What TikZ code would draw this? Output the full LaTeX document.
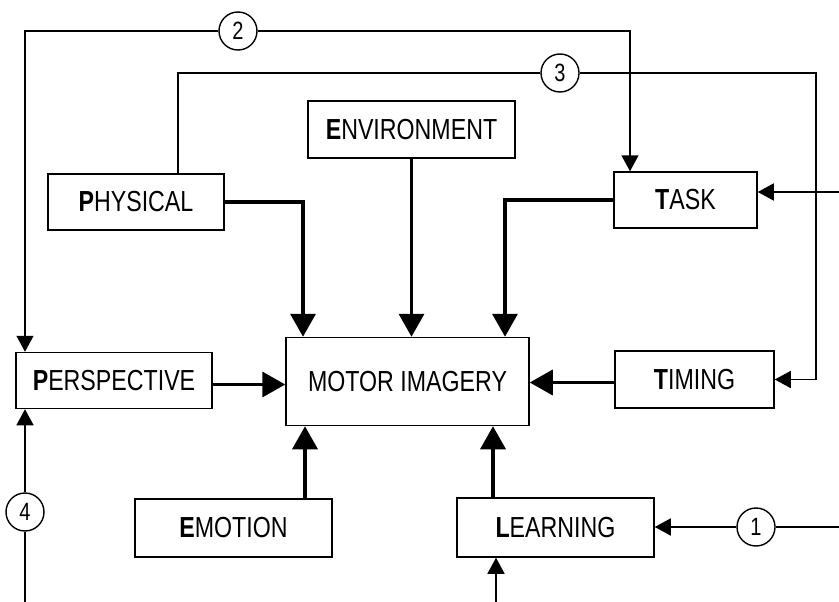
\documentclass[tikz,border=0pt]{standalone}
\usepackage{fontspec}
\setmainfont{Liberation Sans}[FakeStretch=0.8]
\usetikzlibrary{arrows.meta,calc}
\begin{document}
\begin{tikzpicture}[x=1pt,y=-1pt,
  box/.style={draw, line width=1.5pt, inner sep=0pt, font=\fontsize{29}{32}\selectfont},
  num/.style={draw, circle, line width=1.4pt, minimum size=38pt, inner sep=0pt, font=\fontsize{25}{27}\selectfont},
  thin/.style={line width=1.5pt},
  thinarr/.style={line width=1.5pt, -{Triangle[length=16pt,width=17pt]}},
  thickarr/.style={line width=3.5pt, -{Triangle[length=23pt,width=25pt]}}]
\useasboundingbox (0,0) rectangle (839,602);
% boxes
\node[box, minimum width=207pt, minimum height=57pt] (env) at (411.5,129.5) {\textbf{E}NVIRONMENT};
\node[box, minimum width=176pt, minimum height=56pt] (phy) at (136,202) {\textbf{P}HYSICAL};
\node[box, minimum width=143pt, minimum height=56pt] (task) at (685.5,200) {\textbf{T}ASK};
\node[box, minimum width=196pt, minimum height=56pt] (persp) at (114,380.5) {\textbf{P}ERSPECTIVE};
\node[box, minimum width=243pt, minimum height=88pt] (mi) at (407.5,381.5) {MOTOR IMAGERY};
\node[box, minimum width=159pt, minimum height=57pt] (timing) at (694.5,379.5) {\textbf{T}IMING};
\node[box, minimum width=197pt, minimum height=58pt] (emo) at (233.5,528) {\textbf{E}MOTION};
\node[box, minimum width=197pt, minimum height=59pt] (learn) at (555.5,527.5) {\textbf{L}EARNING};
% numbered circles
\node[num] (c2) at (238,31) {2};
\node[num] (c3) at (560,73) {3};
\node[num] (c4) at (25,512) {4};
\node[num] (c1) at (756,527) {1};
% helper coordinates
\coordinate (a2l) at (25,31);
\coordinate (a2r) at (630,31);
\coordinate (a3l) at (178,73);
\coordinate (a3r) at (816,73);
\coordinate (tin) at (839,192);
\coordinate (b4) at (25,602);
\coordinate (r1) at (839,527);
\coordinate (bl) at (496,602);
\coordinate (phyx) at (303,202);
\coordinate (taskx) at (505,200);
\coordinate (emox) at (305,0);
\coordinate (learnx) at (493,0);
% thin connectors
\draw[thinarr] (c2.west) -- (a2l) -- (a2l |- persp.north);
\draw[thinarr] (c2.east) -- (a2r) -- (a2r |- task.north);
\draw[thin] (c3.west) -- (a3l) -- (a3l |- phy.north);
\draw[thinarr] (c3.east) -- (a3r) -- (a3r |- timing.east) -- (timing.east);
\draw[thinarr] (tin) -- (tin -| task.east);
\draw[thin] (b4) -- (c4.south);
\draw[thinarr] (c4.north) -- (c4.north |- persp.south);
\draw[thin] (r1) -- (c1.east);
\draw[thinarr] (c1.west) -- (c1.west -| learn.east);
\draw[thinarr] (bl) -- (bl |- learn.south);
% thick arrows
\draw[thickarr] (phy.east) -- (phyx) -- (phyx |- mi.north);
\draw[thickarr] (env.south) -- (env.south |- mi.north);
\draw[thickarr] (task.west) -- (taskx) -- (taskx |- mi.north);
\draw[thickarr] ([yshift=-4pt]persp.east) -- ([yshift=-4pt]persp.east -| mi.west);
\draw[thickarr] ([yshift=-3pt]timing.west) -- ([yshift=-3pt]timing.west -| mi.east);
\draw[thickarr] (emox |- emo.north) -- (emox |- mi.south);
\draw[thickarr] (learnx |- learn.north) -- (learnx |- mi.south);
\end{tikzpicture}
\end{document}
